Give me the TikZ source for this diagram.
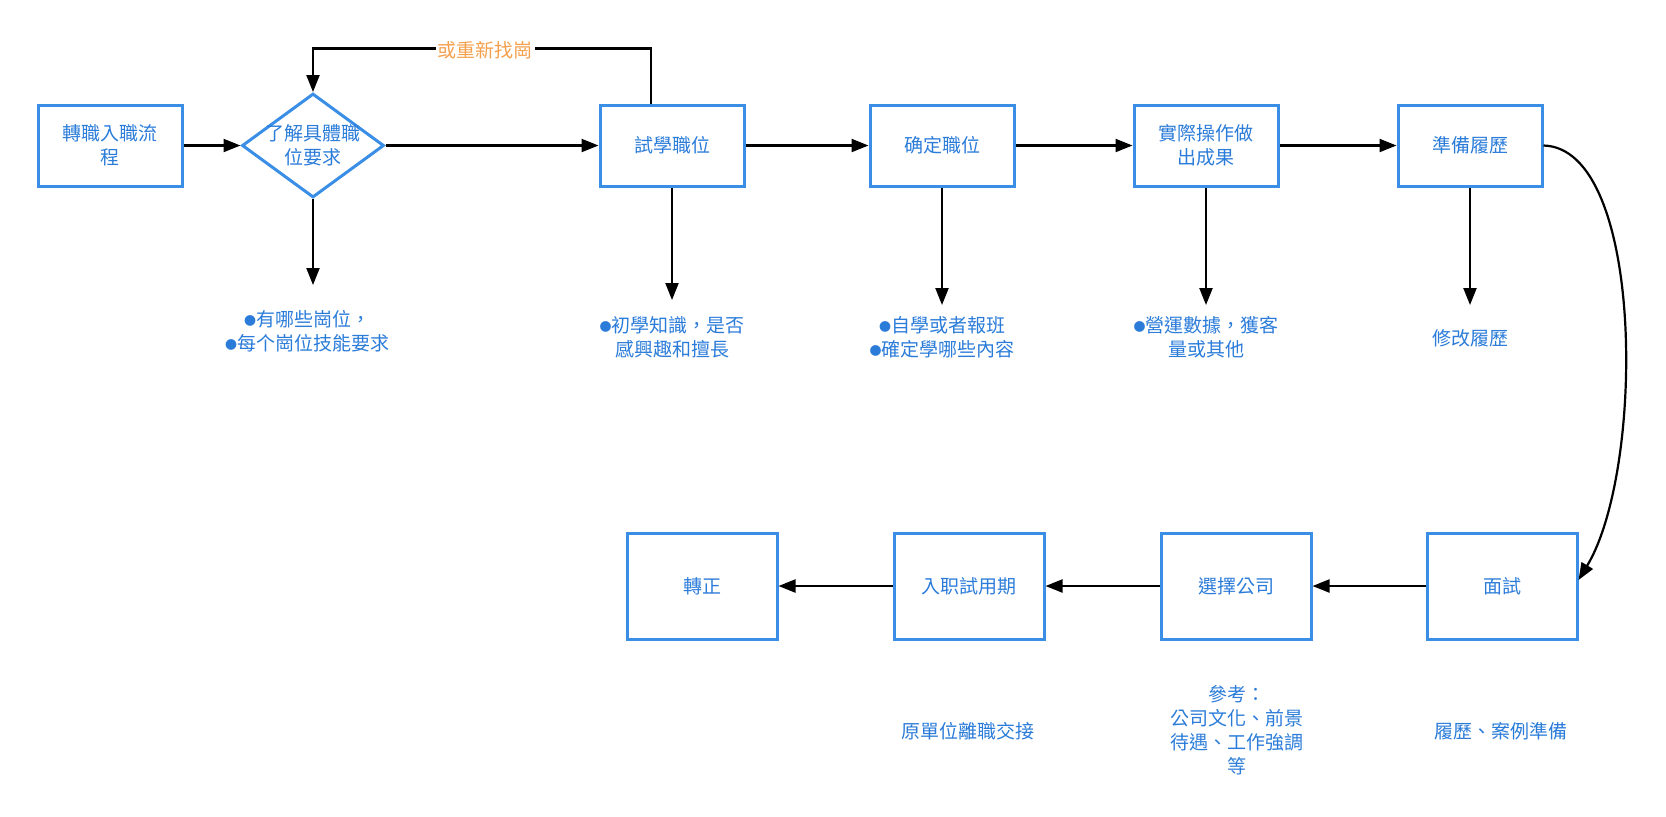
\documentclass[tikz,border=0pt]{standalone}
\usepackage{fontspec}
\newfontfamily\cjk{Noto Sans CJK TC}
\usetikzlibrary{arrows.meta,shapes.geometric}
\definecolor{boxblue}{HTML}{3A8EE6}
\definecolor{textblue}{HTML}{2B7CD9}
\definecolor{noteorange}{HTML}{F5A04C}
\newcommand{\dotmark}{\raisebox{0.6pt}{\fontsize{6}{6}\selectfont ●}}

\begin{document}
\begin{tikzpicture} [x = 0.5pt, y = -0.5pt, line width = 1.1pt, >={Triangle[length = 8.5pt, width = 6.5pt]},
	every node/.style = {font = \cjk\fontsize{9.5}{12}\selectfont, text = textblue, align = center},
	procbox/.style = {draw = boxblue, line width = 1.5pt, inner sep = 0pt, minimum width = 72pt, minimum height = 40.5pt},
	lowbox/.style = {procbox, minimum width = 75pt, minimum height = 53pt},
	askbox/.style = {diamond, draw = boxblue, line width = 1.5pt, inner sep = 0pt, minimum width = 71pt, minimum height = 52pt}]
	\useasboundingbox (0,0) rectangle (1666,816);
	% top row
	\node [procbox] (start) at (110,145.5) {轉職入職流\\程};
	\node [askbox, label = {center:了解具體職\\位要求}] (know) at (313,145.5) {};
	\node [procbox] (learn) at (672,145.5) {試學職位};
	\node [procbox] (decide) at (942,145.5) {确定職位};
	\node [procbox] (practice) at (1206,145.5) {實際操作做\\出成果};
	\node [procbox] (prep) at (1470,145.5) {準備履歷};
	% bottom row
	\node [lowbox] (interview) at (1502,586) {面試};
	\node [lowbox] (choose) at (1236,586) {選擇公司};
	\node [lowbox] (trial) at (969,586) {入职試用期};
	\node [lowbox] (regular) at (702,586) {轉正};
	% notes
	\node (knownote) at (307,331.5) {\dotmark 有哪些崗位，\\\dotmark 每个崗位技能要求};
	\node (learnnote) at (672,337) {\dotmark 初學知識，是否\\感興趣和擅長};
	\node (decidenote) at (942,337) {\dotmark 自學或者報班\\\dotmark 確定學哪些內容};
	\node (practicenote) at (1206,337) {\dotmark 營運數據，獲客\\量或其他};
	\node (prepnote) at (1470,338) {修改履歷};
	\node (trialnote) at (968,731) {原單位離職交接};
	\node (choosenote) at (1237,730) {參考：\\公司文化、前景\\待遇、工作強調\\等};
	\node (intnote) at (1501,731) {履歷、案例準備};
	% arrow ends
	\coordinate (knowend) at (313,285);
	\coordinate (learnend) at (672,300);
	\coordinate (decideend) at (942,305);
	\coordinate (practiceend) at (1206,305);
	\coordinate (prepend) at (1470,305);
	% flow
	\draw [->] (start) -- (know);
	\draw [->] (know) -- (learn);
	\draw [->] (learn) -- (decide);
	\draw [->] (decide) -- (practice);
	\draw [->] (practice) -- (prep);
	\draw [->] (know.south) -- (knowend);
	\draw [->] (learn.south) -- (learnend);
	\draw [->] (decide.south) -- (decideend);
	\draw [->] (practice.south) -- (practiceend);
	\draw [->] (prep.south) -- (prepend);
	\draw [->] ([xshift = -10.5pt] learn.north) -- ++(0,-55) -| (know.north);
	\node [fill = white, text = noteorange, inner sep = 1pt] (retry) at (485,50) {或重新找崗};
	\draw [->] (prep.east) .. controls (1645,148) and (1645,470) .. ([yshift = 3pt] interview.east);
	\draw [->] (interview) -- (choose);
	\draw [->] (choose) -- (trial);
	\draw [->] (trial) -- (regular);
\end{tikzpicture}
\end{document}
